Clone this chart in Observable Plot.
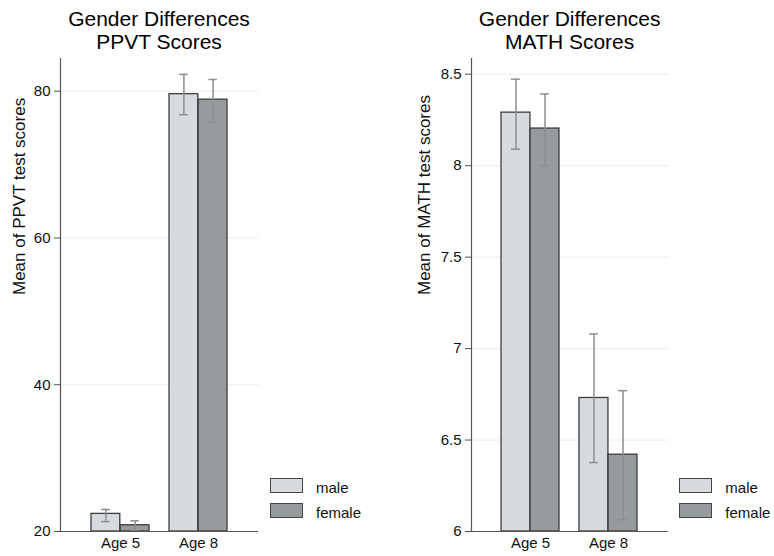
<!DOCTYPE html>
<html><head><meta charset="utf-8">
<script src="https://cdn.jsdelivr.net/npm/d3@7"></script>
<script src="https://cdn.jsdelivr.net/npm/@observablehq/plot@0.6"></script>
<style>
body{margin:0;background:#fff;font-family:"Liberation Sans",Arial,Helvetica,sans-serif;}
#wrap{position:relative;width:774px;height:556px;overflow:hidden;background:#fff;}
.panel{position:absolute;top:0;}
.title{position:absolute;font-size:21px;line-height:23.5px;height:23.5px;text-align:center;color:#000;white-space:nowrap;transform:translateX(-50%);}
.swatch{position:absolute;width:31px;height:13.4px;border:1.2px solid #444;}
.ltext{position:absolute;font-size:15px;line-height:16px;color:#111;white-space:nowrap;}
</style></head><body><div id="wrap"></div>
<script>
// ---- data ----
const ages = ["Age 5", "Age 8"];
const sexes = ["male", "female"];

const ppvtMale = [22.4, 79.6];
const ppvtMaleLo = [21.35, 76.8];
const ppvtMaleHi = [23.0, 82.3];
const ppvtFemale = [20.85, 78.85];
const ppvtFemaleLo = [20.05, 75.8];
const ppvtFemaleHi = [21.45, 81.6];
const ppvtTicks = [20, 40, 60, 80];

const mathMale = [8.29, 6.73];
const mathMaleLo = [8.09, 6.377];
const mathMaleHi = [8.473, 7.08];
const mathFemale = [8.203, 6.42];
const mathFemaleLo = [8.0, 6.064];
const mathFemaleHi = [8.392, 6.77];
const mathTicks = [6, 6.5, 7, 7.5, 8, 8.5];
const mathTickLabels = ["6", "6.5", "7", "7.5", "8", "8.5"];

// ---- style ----
const colors = {male: "#d8dbdd", female: "#969b9d"};
const PI = 0.255, PO = 0.39;

function rows(m, mlo, mhi, f, flo, fhi) {
  return ages.flatMap((a, i) => [
    {age: a, sex: "male", mean: m[i], lo: mlo[i], hi: mhi[i]},
    {age: a, sex: "female", mean: f[i], lo: flo[i], hi: fhi[i]}
  ]);
}

function panel({data, yDomain, ticks, tickFormat, ylabel, ml, mr, labelDx}) {
  const W = 387, H = 556, mt = 58, mb = 25;
  const plotW = W - ml - mr;
  const bw = plotW / (ages.length - PI + 2 * PO) * (1 - PI);
  const yMin = yDomain[0];
  const male = data.filter(d => d.sex === "male");
  const female = data.filter(d => d.sex === "female");
  const cap = 4.5;
  const errStroke = "#8e8e8e";
  return Plot.plot({
    width: W, height: H,
    marginLeft: ml, marginRight: mr, marginTop: mt, marginBottom: mb,
    style: {fontFamily: "Liberation Sans, Arial, sans-serif", fontSize: "15px", background: "transparent", overflow: "visible", color: "#111"},
    x: {domain: ages, paddingInner: PI, paddingOuter: PO, axis: null},
    y: {domain: yDomain, axis: null},
    marks: [
      Plot.ruleY(ticks.slice(1), {stroke: "#ececec", strokeWidth: 1}),
      Plot.barY(male, {x: "age", y1: yMin, y2: "mean", fill: colors.male, stroke: "#3d3d3d", strokeWidth: 1.3, insetRight: bw / 2}),
      Plot.barY(female, {x: "age", y1: yMin, y2: "mean", fill: colors.female, stroke: "#3d3d3d", strokeWidth: 1.3, insetLeft: bw / 2}),
      Plot.ruleX(male, {x: "age", y1: "lo", y2: "hi", dx: -bw / 4, stroke: errStroke, strokeWidth: 1.5}),
      Plot.ruleX(female, {x: "age", y1: "lo", y2: "hi", dx: bw / 4, stroke: errStroke, strokeWidth: 1.5}),
      Plot.tickY(male, {x: "age", y: "lo", insetLeft: bw / 4 - cap, insetRight: 3 * bw / 4 - cap, stroke: errStroke, strokeWidth: 1.5}),
      Plot.tickY(male, {x: "age", y: "hi", insetLeft: bw / 4 - cap, insetRight: 3 * bw / 4 - cap, stroke: errStroke, strokeWidth: 1.5}),
      Plot.tickY(female, {x: "age", y: "lo", insetLeft: 3 * bw / 4 - cap, insetRight: bw / 4 - cap, stroke: errStroke, strokeWidth: 1.5}),
      Plot.tickY(female, {x: "age", y: "hi", insetLeft: 3 * bw / 4 - cap, insetRight: bw / 4 - cap, stroke: errStroke, strokeWidth: 1.5}),
      Plot.frame({anchor: "left", stroke: "#555", strokeWidth: 1.2}),
      Plot.ruleY([yMin], {stroke: "#555", strokeWidth: 1.2}),
      Plot.axisY({ticks, tickFormat, tickSize: 6, tickPadding: 4, stroke: "#555", fill: "#111", fontSize: 15, label: null}),
      Plot.axisX({tickSize: 0, tickPadding: 6, fill: "#111", fontSize: 15, label: null}),
      Plot.text([ylabel], {text: d => d, frameAnchor: "left", rotate: -90, lineAnchor: "bottom", dx: labelDx, fontSize: 17, fill: "#111"})
    ]
  });
}

const wrap = document.getElementById("wrap");

function addPanel(left, svg, titleLines, cx, legendLeft) {
  svg.classList.add("panel");
  svg.style.left = left + "px";
  wrap.appendChild(svg);
  titleLines.forEach((line, i) => {
    const t = document.createElement("div");
    t.className = "title";
    t.style.left = cx + "px";
    t.style.top = (6.5 + i * 23.5) + "px";
    t.textContent = line;
    wrap.appendChild(t);
  });
  sexes.forEach((s, i) => {
    const sw = document.createElement("div");
    sw.className = "swatch";
    sw.style.left = legendLeft + "px";
    sw.style.top = (477.7 + i * 25) + "px";
    sw.style.background = colors[s];
    wrap.appendChild(sw);
    const lt = document.createElement("div");
    lt.className = "ltext";
    lt.style.left = (legendLeft + 46) + "px";
    lt.style.top = (479.8 + i * 25) + "px";
    lt.textContent = s;
    wrap.appendChild(lt);
  });
}

const left = panel({
  data: rows(ppvtMale, ppvtMaleLo, ppvtMaleHi, ppvtFemale, ppvtFemaleLo, ppvtFemaleHi),
  yDomain: [20, 84.46], ticks: ppvtTicks, tickFormat: d => String(d),
  ylabel: "Mean of PPVT test scores", ml: 60, mr: 129, labelDx: -35.5
});
addPanel(0, left, ["Gender Differences", "PPVT Scores"], 159, 270);

const right = panel({
  data: rows(mathMale, mathMaleLo, mathMaleHi, mathFemale, mathFemaleLo, mathFemaleHi),
  yDomain: [6, 8.586], ticks: mathTicks, tickFormat: d => mathTickLabels[mathTicks.indexOf(d)],
  ylabel: "Mean of MATH test scores", ml: 84, mr: 106, labelDx: -42
});
addPanel(387, right, ["Gender Differences", "MATH Scores"], 569.7, 679.3);
</script>
</body></html>
